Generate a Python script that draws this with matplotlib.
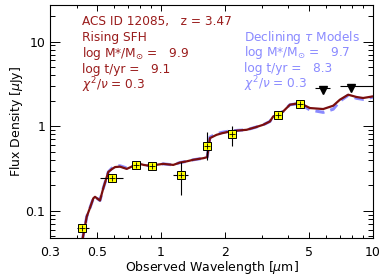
import numpy as np
from matplotlib import pyplot as plt
from matplotlib.ticker import FixedLocator, NullFormatter

plt.rcParams['font.family'] = ['DejaVu Sans']
plt.rcParams['mathtext.fontset'] = 'dejavusans'

# photometry (observed wavelength in micron, flux in microJy)
phot_wave = [0.426, 0.586, 0.763, 0.908, 1.24, 1.655, 2.16, 3.56, 4.53]
phot_flux = [0.063, 0.248, 0.350, 0.338, 0.267, 0.588, 0.800, 1.357, 1.81]
phot_wlo = [0.400, 0.516, 0.763, 0.908, 1.14, 1.655, 2.16, 3.56, 4.53]
phot_whi = [0.460, 0.662, 0.763, 0.908, 1.342, 1.655, 2.16, 3.56, 4.53]
phot_flo = [0.063, 0.248, 0.350, 0.338, 0.155, 0.400, 0.588, 1.357, 1.81]
phot_fhi = [0.063, 0.248, 0.350, 0.338, 0.383, 0.867, 0.995, 1.357, 1.81]

# upper limits
lim_wave = [5.8, 7.93]
lim_flux = [2.83, 2.96]
lim_wlo = [5.35, 7.0]
lim_whi = [6.3, 10.0]

# rising SFH model
model_wave = [0.428, 0.447, 0.463, 0.480, 0.489, 0.516, 0.535, 0.565, 0.586,
              0.608, 0.641, 0.690, 0.730, 0.769, 0.830, 0.888, 0.960, 1.026,
              1.144, 1.230, 1.320, 1.420, 1.585, 1.654, 1.704, 1.832, 1.950,
              2.117, 2.300, 2.538, 2.800, 3.040, 3.268, 3.388, 3.776, 4.061,
              4.527, 5.046, 5.832, 6.499, 6.990, 7.650, 8.380, 9.000, 10.0]
model_flux = [0.048, 0.086, 0.109, 0.141, 0.147, 0.133, 0.186, 0.289, 0.311,
              0.330, 0.334, 0.314, 0.335, 0.367, 0.350, 0.341, 0.352, 0.360,
              0.350, 0.373, 0.385, 0.402, 0.420, 0.432, 0.725, 0.793, 0.830,
              0.868, 0.890, 0.909, 0.975, 1.042, 1.140, 1.306, 1.497, 1.797,
              1.882, 1.642, 1.598, 1.748, 2.059, 2.360, 2.216, 2.157, 2.253]

# declining tau model
tau_wave = model_wave
tau_flux = [0.048, 0.086, 0.109, 0.141, 0.147, 0.133, 0.186, 0.289, 0.318,
            0.340, 0.342, 0.322, 0.342, 0.372, 0.352, 0.341, 0.352, 0.360,
            0.350, 0.373, 0.385, 0.402, 0.420, 0.432, 0.745, 0.815, 0.850,
            0.880, 0.895, 0.909, 0.975, 1.042, 1.140, 1.306, 1.497, 1.797,
            1.850, 1.560, 1.460, 1.590, 1.980, 2.320, 2.140, 2.080, 2.210]

red = '#9a1c1c'
blue = '#8a8aff'

fig = plt.figure(figsize=(3.82, 2.80), dpi=100)
ax = fig.add_axes([0.131, 0.15, 0.845, 0.832])

ax.plot(tau_wave, tau_flux, color=blue, lw=2.2, ls=(0, (3, 2)), zorder=2)
ax.plot(model_wave, model_flux, color='#7a0e0e', lw=1.6, zorder=3)

pw = np.array(phot_wave)
pf = np.array(phot_flux)
xerr = [pw - np.array(phot_wlo), np.array(phot_whi) - pw]
yerr = [pf - np.array(phot_flo), np.array(phot_fhi) - pf]
ax.errorbar(pw, pf, xerr=xerr, yerr=yerr, fmt='none', ecolor='black',
            elinewidth=0.8, capsize=0, zorder=4)
ax.plot(pw, pf, 's', ms=5.5, mfc='#ffff00', mec='black', mew=0.7, zorder=5)
ax.plot(pw, pf, '+', ms=5, color='black', mew=0.6, zorder=6)

lw_ = np.array(lim_wave)
ax.errorbar(lw_, lim_flux, xerr=[lw_ - np.array(lim_wlo), np.array(lim_whi) - lw_],
            fmt='none', ecolor='black', elinewidth=0.8, zorder=4)
ax.plot(lw_, np.array(lim_flux) * 0.95, 'v', ms=6, color='black', zorder=5)

ax.set_xscale('log')
ax.set_yscale('log')
ax.set_xlim(0.3, 10)
ax.set_ylim(0.048, 27)

ax.xaxis.set_major_locator(FixedLocator([0.3, 0.5, 1, 2, 5, 10]))
ax.xaxis.set_minor_locator(FixedLocator([0.4, 0.6, 0.7, 0.8, 0.9, 3, 4, 6, 7, 8, 9]))
ax.set_xticklabels(['0.3', '0.5', '1', '2', '5', '10'])
ax.xaxis.set_minor_formatter(NullFormatter())
ax.yaxis.set_major_locator(FixedLocator([0.1, 1, 10]))
ax.set_yticklabels(['0.1', '1', '10'])
ax.yaxis.set_minor_formatter(NullFormatter())

ax.tick_params(axis='both', which='both', direction='in', top=True, right=True,
               labelsize=9, width=0.7)
ax.tick_params(axis='y', which='major', length=7)
ax.tick_params(axis='y', which='minor', length=3.5)
ax.tick_params(axis='x', which='major', length=4, pad=6)
ax.tick_params(axis='x', which='minor', length=2.5)
for s in ax.spines.values():
    s.set_linewidth(0.8)

ax.set_xlabel(r'Observed Wavelength [$\mu$m]', fontsize=9, labelpad=0)
ax.set_ylabel(r'Flux Density [$\mu$Jy]', fontsize=9, labelpad=0)

red_lines = ['ACS ID 12085,   z = 3.47', 'Rising SFH',
             r'log M*/M$_{\odot}$ =   9.9', 'log t/yr =   9.1',
             r'$\chi^2/\nu$ = 0.3']
blue_lines = [r'Declining $\tau$ Models', r'log M*/M$_{\odot}$ =   9.7',
              'log t/yr =   8.3', r'$\chi^2/\nu$ = 0.3']
for i, t in enumerate(red_lines):
    fig.text(82 / 382, 1 - (22 + 15.7 * i) / 280, t, color=red, fontsize=8.7,
             va='center', ha='left')
for i, t in enumerate(blue_lines):
    fig.text(244 / 382, 1 - (37 + 15.7 * i) / 280, t, color=blue, fontsize=8.7,
             va='center', ha='left')

fig.savefig('out.png', dpi=100)
